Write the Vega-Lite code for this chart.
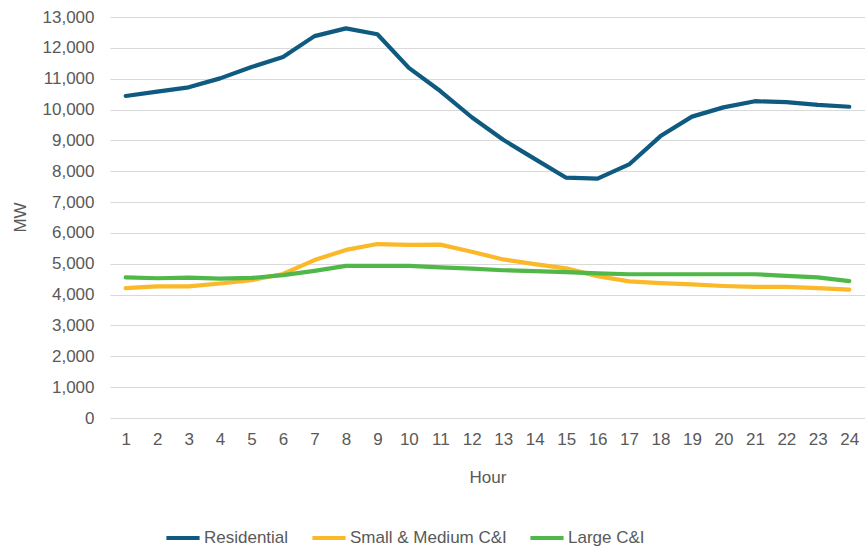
{
  "$schema": "https://vega.github.io/schema/vega-lite/v6.json",
  "width": 755,
  "height": 401,
  "autosize": "none",
  "padding": {"left": 110, "top": 17, "right": 0, "bottom": 130},
  "background": "white",
  "config": {
    "font": "Liberation Sans",
    "view": {"stroke": null},
    "axis": {
      "labelFont": "Liberation Sans",
      "titleFont": "Liberation Sans",
      "labelColor": "#595959",
      "titleColor": "#595959",
      "labelFontSize": 17,
      "titleFontSize": 17,
      "titleFontWeight": "normal",
      "ticks": false,
      "tickSize": 0,
      "domain": false,
      "gridColor": "#D9D9D9",
      "gridWidth": 1.2
    },
    "legend": {
      "labelFont": "Liberation Sans",
      "labelColor": "#595959",
      "labelFontSize": 17
    }
  },
  "data": {
    "values": [
      {"hour": 1, "series": "Residential", "mw": 10440},
      {"hour": 2, "series": "Residential", "mw": 10580},
      {"hour": 3, "series": "Residential", "mw": 10720},
      {"hour": 4, "series": "Residential", "mw": 11010},
      {"hour": 5, "series": "Residential", "mw": 11380},
      {"hour": 6, "series": "Residential", "mw": 11700},
      {"hour": 7, "series": "Residential", "mw": 12380},
      {"hour": 8, "series": "Residential", "mw": 12630},
      {"hour": 9, "series": "Residential", "mw": 12440},
      {"hour": 10, "series": "Residential", "mw": 11350},
      {"hour": 11, "series": "Residential", "mw": 10600},
      {"hour": 12, "series": "Residential", "mw": 9750},
      {"hour": 13, "series": "Residential", "mw": 9020},
      {"hour": 14, "series": "Residential", "mw": 8400},
      {"hour": 15, "series": "Residential", "mw": 7790},
      {"hour": 16, "series": "Residential", "mw": 7760},
      {"hour": 17, "series": "Residential", "mw": 8220},
      {"hour": 18, "series": "Residential", "mw": 9140},
      {"hour": 19, "series": "Residential", "mw": 9770},
      {"hour": 20, "series": "Residential", "mw": 10070},
      {"hour": 21, "series": "Residential", "mw": 10270},
      {"hour": 22, "series": "Residential", "mw": 10240},
      {"hour": 23, "series": "Residential", "mw": 10150},
      {"hour": 24, "series": "Residential", "mw": 10090},
      {"hour": 1, "series": "Small & Medium C&I", "mw": 4210},
      {"hour": 2, "series": "Small & Medium C&I", "mw": 4270},
      {"hour": 3, "series": "Small & Medium C&I", "mw": 4270},
      {"hour": 4, "series": "Small & Medium C&I", "mw": 4360},
      {"hour": 5, "series": "Small & Medium C&I", "mw": 4470},
      {"hour": 6, "series": "Small & Medium C&I", "mw": 4670},
      {"hour": 7, "series": "Small & Medium C&I", "mw": 5120},
      {"hour": 8, "series": "Small & Medium C&I", "mw": 5450},
      {"hour": 9, "series": "Small & Medium C&I", "mw": 5640},
      {"hour": 10, "series": "Small & Medium C&I", "mw": 5610},
      {"hour": 11, "series": "Small & Medium C&I", "mw": 5620},
      {"hour": 12, "series": "Small & Medium C&I", "mw": 5390},
      {"hour": 13, "series": "Small & Medium C&I", "mw": 5140},
      {"hour": 14, "series": "Small & Medium C&I", "mw": 4990},
      {"hour": 15, "series": "Small & Medium C&I", "mw": 4850},
      {"hour": 16, "series": "Small & Medium C&I", "mw": 4600},
      {"hour": 17, "series": "Small & Medium C&I", "mw": 4430},
      {"hour": 18, "series": "Small & Medium C&I", "mw": 4370},
      {"hour": 19, "series": "Small & Medium C&I", "mw": 4330},
      {"hour": 20, "series": "Small & Medium C&I", "mw": 4280},
      {"hour": 21, "series": "Small & Medium C&I", "mw": 4250},
      {"hour": 22, "series": "Small & Medium C&I", "mw": 4250},
      {"hour": 23, "series": "Small & Medium C&I", "mw": 4210},
      {"hour": 24, "series": "Small & Medium C&I", "mw": 4160},
      {"hour": 1, "series": "Large C&I", "mw": 4560},
      {"hour": 2, "series": "Large C&I", "mw": 4530},
      {"hour": 3, "series": "Large C&I", "mw": 4550},
      {"hour": 4, "series": "Large C&I", "mw": 4520},
      {"hour": 5, "series": "Large C&I", "mw": 4540},
      {"hour": 6, "series": "Large C&I", "mw": 4630},
      {"hour": 7, "series": "Large C&I", "mw": 4770},
      {"hour": 8, "series": "Large C&I", "mw": 4930},
      {"hour": 9, "series": "Large C&I", "mw": 4930},
      {"hour": 10, "series": "Large C&I", "mw": 4930},
      {"hour": 11, "series": "Large C&I", "mw": 4880},
      {"hour": 12, "series": "Large C&I", "mw": 4840},
      {"hour": 13, "series": "Large C&I", "mw": 4790},
      {"hour": 14, "series": "Large C&I", "mw": 4760},
      {"hour": 15, "series": "Large C&I", "mw": 4730},
      {"hour": 16, "series": "Large C&I", "mw": 4690},
      {"hour": 17, "series": "Large C&I", "mw": 4660},
      {"hour": 18, "series": "Large C&I", "mw": 4660},
      {"hour": 19, "series": "Large C&I", "mw": 4660},
      {"hour": 20, "series": "Large C&I", "mw": 4660},
      {"hour": 21, "series": "Large C&I", "mw": 4660},
      {"hour": 22, "series": "Large C&I", "mw": 4610},
      {"hour": 23, "series": "Large C&I", "mw": 4560},
      {"hour": 24, "series": "Large C&I", "mw": 4440}
    ]
  },
  "mark": {"type": "line", "strokeWidth": 4.2, "strokeCap": "round", "strokeJoin": "round"},
  "encoding": {
    "x": {
      "field": "hour",
      "type": "ordinal",
      "sort": "ascending",
      "scale": {"type": "point", "padding": 0.5},
      "axis": {
        "title": "Hour",
        "labelAngle": 0,
        "labelPadding": 13,
        "grid": false,
        "titleY": 59,
        "titleBaseline": "middle"
      }
    },
    "y": {
      "field": "mw",
      "type": "quantitative",
      "scale": {"domain": [0, 13000], "nice": false},
      "axis": {
        "title": "MW",
        "values": [0, 1000, 2000, 3000, 4000, 5000, 6000, 7000, 8000, 9000, 10000, 11000, 12000, 13000],
        "format": ",d",
        "labelPadding": 16,
        "titleX": -90,
        "titleY": 200,
        "titleAngle": -90,
        "titleBaseline": "middle",
        "titleAlign": "center"
      }
    },
    "color": {
      "field": "series",
      "type": "nominal",
      "sort": ["Residential", "Small & Medium C&I", "Large C&I"],
      "scale": {
        "domain": ["Residential", "Small & Medium C&I", "Large C&I"],
        "range": ["#0E5A80", "#FBB829", "#50B848"]
      },
      "legend": {
        "title": null,
        "orient": "none",
        "direction": "horizontal",
        "legendX": 54,
        "legendY": 502,
        "symbolType": "stroke",
        "symbolSize": 1100,
        "symbolStrokeWidth": 4,
        "labelOffset": 2,
        "columnPadding": 15
      }
    }
  }
}
